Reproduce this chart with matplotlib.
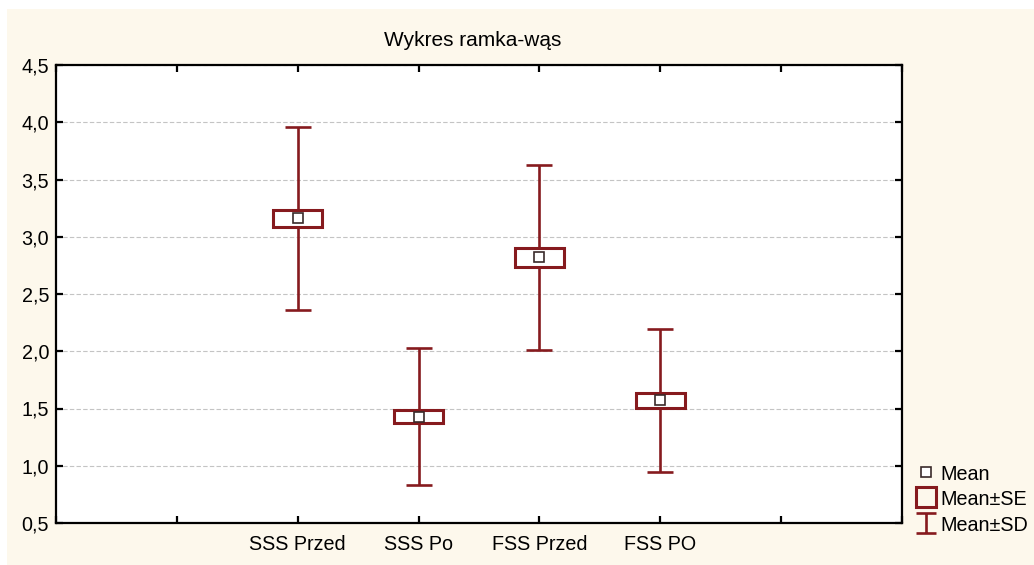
import matplotlib
matplotlib.use("Agg")
import matplotlib.pyplot as plt
from matplotlib.patches import Rectangle
from matplotlib.lines import Line2D
from matplotlib.path import Path

plt.rcParams["font.family"] = ["Liberation Sans", "DejaVu Sans"]

# ── dane ────────────────────────────────────────────────────────────────────
kategorie = ["SSS Przed", "SSS Po", "FSS Przed", "FSS PO"]
pozycje = [2, 3, 4, 5]
srednie = [3.16, 1.43, 2.82, 1.57]
blad_std = [0.075, 0.058, 0.08, 0.063]   # SE
odch_std = [0.80, 0.595, 0.81, 0.625]    # SD

CZERWONY = "#861a1e"
KREMOWY = "#fdf8ec"
FS = 14.2

W, H = 1034, 565
fig = plt.figure(figsize=(W / 100, H / 100), dpi=100, facecolor="white")
fig.patches.append(Rectangle((7 / W, 0), 1 - 7 / W, 1 - 9 / H,
                             transform=fig.transFigure, facecolor=KREMOWY,
                             edgecolor="none", zorder=-10))

ax = fig.add_axes([56 / W, 1 - 523 / H, (902 - 56) / W, (523 - 65) / H])
ax.set_facecolor("white")

# wąsy (Mean±SD)
ax.errorbar(pozycje, srednie, yerr=odch_std, fmt="none",
            ecolor=CZERWONY, elinewidth=1.9, capsize=9.5,
            capthick=1.9, zorder=3)
# ramka (Mean±SE)
dol = [m - s for m, s in zip(srednie, blad_std)]
wys = [2 * s for s in blad_std]
ax.bar(pozycje, wys, bottom=dol, width=0.41, facecolor="white",
       edgecolor=CZERWONY, linewidth=2.2, zorder=4)
# średnia
ax.plot(pozycje, srednie, "s", ms=7, mfc="white", mec="#3a2a2a",
        mew=1.2, zorder=5)

ax.set_xlim(0, 7)
ax.set_ylim(0.5, 4.5)
ax.set_xticks(range(0, 8))
ax.set_xticklabels(["", ""] + kategorie + ["", ""])
yt = [0.5 + 0.5 * i for i in range(9)]
ax.set_yticks(yt)
ax.set_yticklabels([f"{v:.1f}".replace(".", ",") for v in yt])
ax.yaxis.grid(True, linestyle=(0, (4, 2)), color="#c4c4c4", linewidth=0.8)
ax.set_axisbelow(True)

for s in ax.spines.values():
    s.set_linewidth(1.6)
    s.set_color("black")
ax.tick_params(axis="both", direction="in", length=5, width=1.6,
               top=True, right=True, labelsize=FS, pad=5)
ax.tick_params(axis="x", pad=9)

ax.set_title("Wykres ramka-wąs", fontsize=15, pad=14)
ax.title.set_x(0.492)

# legenda: znaczniki zastępcze
ibeam = Path([(-1, 1), (1, 1), (0, 1), (0, -1), (-1, -1), (1, -1)],
             [Path.MOVETO, Path.LINETO, Path.MOVETO, Path.LINETO,
              Path.MOVETO, Path.LINETO])
h_mean = Line2D([], [], ls="none", marker="s", ms=7, mfc="white",
                mec="#3a2a2a", mew=1.2)
h_se = Line2D([], [], ls="none", marker="s", ms=14.5, mfc="none",
              mec=CZERWONY, mew=2.2)
h_sd = Line2D([], [], ls="none", marker=ibeam, ms=15, color=CZERWONY,
              mew=1.9)

fig.legend(handles=[h_mean, h_se, h_sd],
           labels=["Mean", "Mean±SE", "Mean±SD"],
           loc="upper left", bbox_to_anchor=(916 / W, 1 - 464 / H),
           frameon=False, fontsize=FS, handlelength=1.0, handleheight=1.0,
           handletextpad=0.25, labelspacing=0.31, borderpad=0,
           borderaxespad=0)

fig.savefig("out.png", dpi=100, facecolor=fig.get_facecolor())
